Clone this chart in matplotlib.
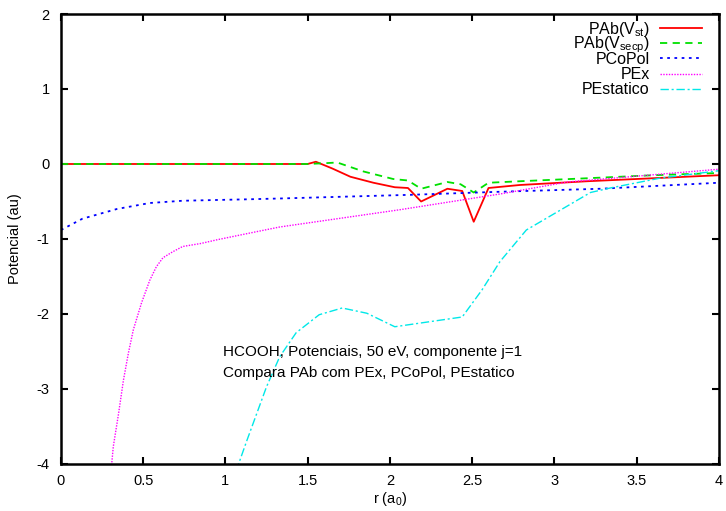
import matplotlib
matplotlib.use('Agg')
import matplotlib.pyplot as plt
from matplotlib.lines import Line2D

plt.rcParams['font.family'] = ['Liberation Sans', 'DejaVu Sans']
plt.rcParams['axes.unicode_minus'] = False
plt.rcParams['mathtext.fontset'] = 'custom'
plt.rcParams['mathtext.rm'] = 'Liberation Sans'

# PAb(V_st)
r_st = [0, 1.5, 1.55, 1.65, 1.76, 1.9, 2.03, 2.11, 2.19, 2.35, 2.44, 2.51, 2.60, 2.79, 3.2, 3.6, 4.0]
v_st = [0, 0, 0.03, -0.06, -0.17, -0.25, -0.31, -0.32, -0.50, -0.33, -0.36, -0.77, -0.32, -0.28, -0.23, -0.19, -0.15]

# PAb(V_secp)
r_secp = [0, 1.5, 1.6, 1.68, 1.84, 2.02, 2.11, 2.19, 2.35, 2.43, 2.51, 2.60, 2.79, 3.2, 3.6, 4.0]
v_secp = [0, 0, 0.01, 0.02, -0.10, -0.20, -0.22, -0.33, -0.24, -0.27, -0.38, -0.25, -0.23, -0.19, -0.15, -0.12]

# PCoPol
r_copol = [0, 0.13, 0.34, 0.54, 0.74, 1.15, 1.33, 2.14, 2.67, 3.28, 4.0]
v_copol = [-0.88, -0.73, -0.60, -0.52, -0.49, -0.47, -0.46, -0.41, -0.37, -0.33, -0.25]

# PEx
r_ex = [0.30, 0.318, 0.35, 0.38, 0.41, 0.44, 0.49, 0.54, 0.58, 0.62, 0.68, 0.74, 0.85, 0.95, 1.15, 1.33, 2.06, 2.67, 3.08, 4.0]
v_ex = [-4.2, -3.77, -3.33, -2.88, -2.52, -2.21, -1.85, -1.55, -1.37, -1.25, -1.17, -1.10, -1.06, -1.01, -0.92, -0.84, -0.61, -0.40, -0.24, -0.07]

# PEstatico
r_est = [1.07, 1.08, 1.13, 1.19, 1.25, 1.33, 1.43, 1.57, 1.71, 1.86, 2.03, 2.44, 2.56, 2.67, 2.83, 3.22, 3.34, 3.64, 4.0]
v_est = [-4.1, -4.0, -3.69, -3.33, -2.97, -2.57, -2.25, -2.01, -1.92, -1.99, -2.17, -2.04, -1.68, -1.30, -0.88, -0.38, -0.32, -0.19, -0.09]

x_ticks = [0, 0.5, 1, 1.5, 2, 2.5, 3, 3.5, 4]
x_labels = ['0', '0.5', '1', '1.5', '2', '2.5', '3', '3.5', '4']
y_ticks = [-4, -3, -2, -1, 0, 1, 2]

fig = plt.figure(figsize=(7.26, 5.11), dpi=100)
ax = fig.add_axes([0.084, 0.092, 0.906, 0.8806])

series = [
    (r_st, v_st, 'PAb(V$_\\mathrm{st}$)', dict(color='#ff0000', lw=1.3, ls='-')),
    (r_secp, v_secp, 'PAb(V$_\\mathrm{secp}$)', dict(color='#00e000', lw=1.3, ls=(0, (4, 3)))),
    (r_copol, v_copol, 'PCoPol', dict(color='#0000ff', lw=1.3, ls=(0, (1.5, 2.5)))),
    (r_ex, v_ex, 'PEx', dict(color='#ff00ff', lw=1.0, ls=(0, (1, 1)))),
    (r_est, v_est, 'PEstatico', dict(color='#00e8e8', lw=1.0, ls=(0, (6, 2, 1.5, 2)))),
]

# gnuplot-style key: right-justified text, sample line on the right
ax_h = 450.0
ax_w = 658.0
for i, (r, v, label, style) in enumerate(series):
    ax.plot(r, v, **style)
    row = 28 + 15.2 * i  # pixels from top of figure
    y = 1 - (row - 14) / ax_h
    yb = 1 - (row + 5.5 - 14) / ax_h
    ax.text((650 - 61) / ax_w, yb, label, transform=ax.transAxes, ha='right',
            va='baseline', fontsize=11.5)
    ax.add_line(Line2D([(660 - 61) / ax_w, (702 - 61) / ax_w], [y, y],
                       transform=ax.transAxes, **style))

ax.set_xlim(0, 4)
ax.set_ylim(-4, 2)
ax.set_xticks(x_ticks)
ax.set_xticklabels(x_labels)
ax.set_yticks(y_ticks)
ax.tick_params(direction='in', top=True, right=True, length=5, width=1.5, labelsize=10.5)
ax.tick_params(axis='y', pad=8)
ax.tick_params(axis='x', pad=7)
for s in ax.spines.values():
    s.set_linewidth(1.8)

ax.set_xlabel('r (a$_\\mathrm{0}$)', fontsize=10.5, labelpad=2)
ax.set_ylabel('Potencial (au)', fontsize=10.5, labelpad=11)

ax.text(0.985, -2.51, 'HCOOH, Potenciais, 50 eV, componente j=1', fontsize=11, va='center')
ax.text(0.985, -2.79, 'Compara PAb com PEx, PCoPol, PEstatico', fontsize=11, va='center')

fig.savefig('out.png', dpi=100)
